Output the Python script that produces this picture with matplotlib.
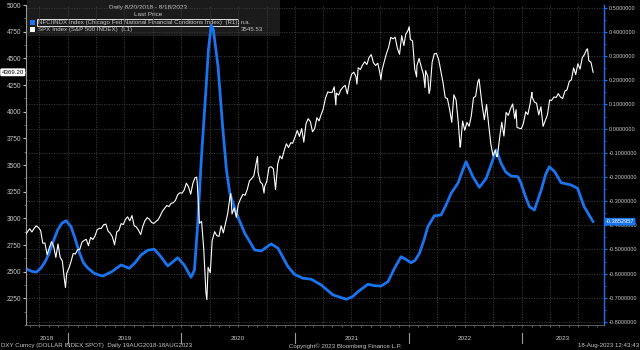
import pandas as pd
import matplotlib
matplotlib.use('Agg')
import matplotlib.pyplot as plt
import matplotlib.dates as mdates
import matplotlib.transforms as mtransforms
from matplotlib.ticker import MultipleLocator, FixedLocator, NullFormatter
from matplotlib.patches import Rectangle

plt.rcParams['font.family'] = ['Liberation Sans', 'DejaVu Sans']

# S&P 500 (left axis), roughly weekly closes
spx_2018 = [("2018-08-20", 2857), ("2018-08-24", 2875), ("2018-08-31", 2902), ("2018-09-07", 2872),
            ("2018-09-14", 2905), ("2018-09-21", 2930), ("2018-09-28", 2914), ("2018-10-05", 2886),
            ("2018-10-12", 2767), ("2018-10-19", 2768), ("2018-10-26", 2659), ("2018-11-02", 2723),
            ("2018-11-09", 2781), ("2018-11-16", 2736), ("2018-11-23", 2633), ("2018-11-30", 2760),
            ("2018-12-07", 2633), ("2018-12-14", 2600), ("2018-12-21", 2417), ("2018-12-24", 2351),
            ("2018-12-28", 2486)]
spx_2019 = [("2019-01-04", 2532), ("2019-01-11", 2596), ("2019-01-18", 2671), ("2019-01-25", 2665),
            ("2019-02-01", 2707), ("2019-02-08", 2708), ("2019-02-15", 2776), ("2019-02-22", 2793),
            ("2019-03-01", 2803), ("2019-03-08", 2743), ("2019-03-15", 2822), ("2019-03-22", 2801),
            ("2019-03-29", 2834), ("2019-04-05", 2893), ("2019-04-12", 2907), ("2019-04-18", 2905),
            ("2019-04-26", 2940), ("2019-05-03", 2946), ("2019-05-10", 2881), ("2019-05-17", 2860),
            ("2019-05-24", 2826), ("2019-05-31", 2752), ("2019-06-07", 2873), ("2019-06-14", 2887),
            ("2019-06-21", 2950), ("2019-06-28", 2942), ("2019-07-05", 2990), ("2019-07-12", 3014),
            ("2019-07-19", 2977), ("2019-07-26", 3026), ("2019-08-02", 2932), ("2019-08-09", 2919),
            ("2019-08-16", 2889), ("2019-08-23", 2847), ("2019-08-30", 2926), ("2019-09-06", 2979),
            ("2019-09-13", 3007), ("2019-09-20", 2992), ("2019-09-27", 2962), ("2019-10-04", 2952),
            ("2019-10-11", 2970), ("2019-10-18", 2986), ("2019-10-25", 3023), ("2019-11-01", 3067),
            ("2019-11-08", 3093), ("2019-11-15", 3120), ("2019-11-22", 3110), ("2019-11-29", 3141),
            ("2019-12-06", 3146), ("2019-12-13", 3169), ("2019-12-20", 3221), ("2019-12-27", 3240)]
spx_2020 = [("2020-01-03", 3235), ("2020-01-10", 3265), ("2020-01-17", 3330), ("2020-01-24", 3295),
            ("2020-01-31", 3226), ("2020-02-07", 3328), ("2020-02-14", 3380), ("2020-02-19", 3386),
            ("2020-02-21", 3338), ("2020-02-28", 2954), ("2020-03-06", 2972), ("2020-03-13", 2711),
            ("2020-03-20", 2305), ("2020-03-23", 2237), ("2020-03-27", 2541), ("2020-04-03", 2489),
            ("2020-04-09", 2790), ("2020-04-17", 2875), ("2020-04-24", 2837), ("2020-05-01", 2831),
            ("2020-05-08", 2930), ("2020-05-15", 2864), ("2020-05-22", 2955), ("2020-05-29", 3044),
            ("2020-06-05", 3194), ("2020-06-08", 3232), ("2020-06-12", 3041), ("2020-06-19", 3098),
            ("2020-06-26", 3009), ("2020-07-02", 3130), ("2020-07-10", 3185), ("2020-07-17", 3225),
            ("2020-07-24", 3216), ("2020-07-31", 3271), ("2020-08-07", 3351), ("2020-08-14", 3373),
            ("2020-08-21", 3397), ("2020-08-28", 3508), ("2020-09-02", 3580), ("2020-09-04", 3427),
            ("2020-09-11", 3341), ("2020-09-18", 3319), ("2020-09-23", 3237), ("2020-09-25", 3298),
            ("2020-10-02", 3348), ("2020-10-09", 3477), ("2020-10-16", 3484), ("2020-10-23", 3465),
            ("2020-10-30", 3270), ("2020-11-06", 3509), ("2020-11-13", 3585), ("2020-11-20", 3558),
            ("2020-11-27", 3638), ("2020-12-04", 3699), ("2020-12-11", 3663), ("2020-12-18", 3709),
            ("2020-12-24", 3703), ("2020-12-31", 3756)]
spx_2021 = [("2021-01-08", 3824), ("2021-01-15", 3768), ("2021-01-22", 3841), ("2021-01-29", 3714),
            ("2021-02-05", 3887), ("2021-02-12", 3934), ("2021-02-19", 3907), ("2021-02-26", 3811),
            ("2021-03-05", 3842), ("2021-03-12", 3943), ("2021-03-19", 3913), ("2021-03-26", 3975),
            ("2021-04-01", 4020), ("2021-04-09", 4129), ("2021-04-16", 4185), ("2021-04-23", 4180),
            ("2021-04-30", 4181), ("2021-05-07", 4233), ("2021-05-12", 4063), ("2021-05-14", 4174),
            ("2021-05-21", 4156), ("2021-05-28", 4204), ("2021-06-04", 4230), ("2021-06-11", 4247),
            ("2021-06-18", 4166), ("2021-06-25", 4281), ("2021-07-02", 4352), ("2021-07-09", 4370),
            ("2021-07-16", 4327), ("2021-07-19", 4258), ("2021-07-23", 4412), ("2021-07-30", 4395),
            ("2021-08-06", 4437), ("2021-08-13", 4468), ("2021-08-20", 4442), ("2021-08-27", 4509),
            ("2021-09-03", 4535), ("2021-09-10", 4459), ("2021-09-17", 4433), ("2021-09-24", 4455),
            ("2021-10-01", 4357), ("2021-10-04", 4300), ("2021-10-08", 4391), ("2021-10-15", 4471),
            ("2021-10-22", 4545), ("2021-10-29", 4605), ("2021-11-05", 4697), ("2021-11-12", 4683),
            ("2021-11-19", 4698), ("2021-11-26", 4595), ("2021-12-03", 4538), ("2021-12-10", 4712),
            ("2021-12-17", 4620), ("2021-12-23", 4725), ("2021-12-31", 4766)]
spx_2022 = [("2022-01-03", 4797), ("2022-01-07", 4677), ("2022-01-14", 4663), ("2022-01-21", 4398),
            ("2022-01-27", 4326), ("2022-01-28", 4432), ("2022-02-04", 4500), ("2022-02-11", 4419),
            ("2022-02-18", 4349), ("2022-02-23", 4225), ("2022-02-25", 4385), ("2022-03-04", 4329),
            ("2022-03-08", 4170), ("2022-03-11", 4204), ("2022-03-18", 4463), ("2022-03-25", 4543),
            ("2022-04-01", 4546), ("2022-04-08", 4488), ("2022-04-14", 4393), ("2022-04-22", 4272),
            ("2022-04-29", 4132), ("2022-05-06", 4123), ("2022-05-13", 4024), ("2022-05-20", 3901),
            ("2022-05-27", 4158), ("2022-06-03", 4109), ("2022-06-10", 3901), ("2022-06-16", 3667),
            ("2022-06-17", 3675), ("2022-06-24", 3912), ("2022-07-01", 3825), ("2022-07-08", 3899),
            ("2022-07-15", 3863), ("2022-07-22", 3962), ("2022-07-29", 4130), ("2022-08-05", 4145),
            ("2022-08-12", 4280), ("2022-08-16", 4305), ("2022-08-19", 4228), ("2022-08-26", 4058),
            ("2022-09-02", 3924), ("2022-09-09", 4067), ("2022-09-16", 3873), ("2022-09-23", 3693),
            ("2022-09-30", 3586), ("2022-10-07", 3640), ("2022-10-12", 3577), ("2022-10-14", 3583),
            ("2022-10-21", 3752), ("2022-10-28", 3901), ("2022-11-04", 3771), ("2022-11-11", 3993),
            ("2022-11-18", 3965), ("2022-11-25", 4026), ("2022-12-02", 4072), ("2022-12-09", 3934),
            ("2022-12-13", 4019), ("2022-12-16", 3852), ("2022-12-23", 3845), ("2022-12-30", 3840)]
spx_2023 = [("2023-01-06", 3895), ("2023-01-13", 3999), ("2023-01-20", 3973), ("2023-01-27", 4071),
            ("2023-02-02", 4180), ("2023-02-03", 4136), ("2023-02-10", 4090), ("2023-02-17", 4079),
            ("2023-02-24", 3970), ("2023-03-03", 4046), ("2023-03-10", 3862), ("2023-03-17", 3917),
            ("2023-03-24", 3971), ("2023-03-31", 4109), ("2023-04-06", 4105), ("2023-04-14", 4138),
            ("2023-04-21", 4133), ("2023-04-28", 4169), ("2023-05-05", 4136), ("2023-05-12", 4124),
            ("2023-05-19", 4192), ("2023-05-26", 4205), ("2023-06-02", 4282), ("2023-06-09", 4299),
            ("2023-06-16", 4410), ("2023-06-23", 4348), ("2023-06-30", 4450), ("2023-07-07", 4399),
            ("2023-07-14", 4505), ("2023-07-21", 4536), ("2023-07-28", 4582), ("2023-07-31", 4589),
            ("2023-08-04", 4478), ("2023-08-11", 4464), ("2023-08-18", 4369.20)]

# Chicago Fed NFCI (right axis)
nfci = [("2018-08-20", -0.580), ("2018-09-05", -0.590), ("2018-09-21", -0.594), ("2018-10-06", -0.577),
        ("2018-10-20", -0.550), ("2018-11-02", -0.514), ("2018-11-16", -0.462), ("2018-11-29", -0.419),
        ("2018-12-12", -0.392), ("2018-12-26", -0.381), ("2019-01-11", -0.406), ("2019-01-24", -0.455),
        ("2019-02-07", -0.514), ("2019-02-20", -0.555), ("2019-03-06", -0.577), ("2019-03-28", -0.600),
        ("2019-04-23", -0.610), ("2019-05-22", -0.592), ("2019-06-21", -0.564), ("2019-07-17", -0.578),
        ("2019-08-05", -0.555), ("2019-08-24", -0.523), ("2019-09-15", -0.503), ("2019-10-06", -0.499),
        ("2019-10-27", -0.530), ("2019-11-18", -0.568), ("2019-12-04", -0.552), ("2019-12-20", -0.534),
        ("2020-01-10", -0.564), ("2020-02-01", -0.615), ("2020-02-12", -0.585), ("2020-02-22", -0.406),
        ("2020-03-05", -0.130), ("2020-03-20", 0.160), ("2020-03-28", 0.325), ("2020-04-06", 0.428),
        ("2020-04-13", 0.408), ("2020-04-28", 0.256), ("2020-05-12", 0.020), ("2020-05-25", -0.171),
        ("2020-06-05", -0.268), ("2020-06-26", -0.350), ("2020-07-23", -0.433), ("2020-08-24", -0.502),
        ("2020-09-14", -0.506), ("2020-10-16", -0.477), ("2020-11-07", -0.495), ("2020-12-09", -0.571),
        ("2020-12-30", -0.603), ("2021-01-26", -0.619), ("2021-02-22", -0.623), ("2021-03-26", -0.647),
        ("2021-05-03", -0.688), ("2021-06-15", -0.706), ("2021-07-05", -0.695), ("2021-07-22", -0.675),
        ("2021-08-23", -0.644), ("2021-09-15", -0.650), ("2021-10-05", -0.651), ("2021-10-27", -0.633),
        ("2021-11-18", -0.575), ("2021-12-08", -0.530), ("2021-12-22", -0.540), ("2022-01-09", -0.555),
        ("2022-01-22", -0.545), ("2022-02-05", -0.516), ("2022-02-20", -0.460), ("2022-03-04", -0.406),
        ("2022-03-25", -0.361), ("2022-04-16", -0.357), ("2022-05-02", -0.315), ("2022-05-18", -0.268),
        ("2022-06-09", -0.226), ("2022-06-22", -0.180), ("2022-07-05", -0.137), ("2022-07-15", -0.165),
        ("2022-07-27", -0.199), ("2022-08-17", -0.243), ("2022-09-08", -0.206), ("2022-09-29", -0.130),
        ("2022-10-10", -0.088), ("2022-10-26", -0.144), ("2022-11-10", -0.180), ("2022-11-27", -0.196),
        ("2022-12-19", -0.199), ("2022-12-29", -0.226), ("2023-01-12", -0.280), ("2023-01-25", -0.323),
        ("2023-02-10", -0.337), ("2023-03-04", -0.254), ("2023-03-18", -0.190), ("2023-03-30", -0.158),
        ("2023-04-16", -0.178), ("2023-05-07", -0.224), ("2023-06-08", -0.233), ("2023-06-29", -0.247),
        ("2023-07-20", -0.323), ("2023-08-18", -0.3852957)]

years = [2018, 2019, 2020, 2021, 2022, 2023]
left_ticks = [2250, 2500, 2750, 3000, 3250, 3500, 3750, 4000, 4250, 4500, 4750, 5000]
right_ticks = [-0.8, -0.7, -0.6, -0.5, -0.4, -0.3, -0.2, -0.1, 0.0, 0.1, 0.2, 0.3, 0.4, 0.5]

spx = spx_2018 + spx_2019 + spx_2020 + spx_2021 + spx_2022 + spx_2023
spx_x = pd.to_datetime([d for d, v in spx])
spx_y = [v for d, v in spx]
nf_x = pd.to_datetime([d for d, v in nfci])
nf_y = [v for d, v in nfci]

BLUE = '#1a74f0'
GRID = '#3c3c3c'
TXT = '#c8c8c8'

fig = plt.figure(figsize=(6.4, 3.5), dpi=100, facecolor='black')
ax = fig.add_axes([26 / 640, 25 / 350, 578 / 640, 320 / 350])
ax2 = ax.twinx()
ax.set_zorder(ax2.get_zorder() + 1)
ax.patch.set_visible(False)
ax2.patch.set_visible(False)

x0, x1 = pd.Timestamp('2018-08-19'), pd.Timestamp('2023-09-22')
ax.set_xlim(x0, x1)
ax.set_ylim(2000, 5000)
ax2.set_ylim(-0.8124, 0.5112)

# legend panel sits under the plot lines
fig.patches.append(Rectangle((27 / 640, 1 - 36 / 350), 253 / 640, 36 / 350,
                             transform=fig.transFigure, fc='#1b1b1b', ec='none', zorder=-2))
fig.text(148 / 640, 1 - 7 / 350, 'Daily 8/20/2018 - 8/18/2023', ha='center', va='center',
         color=TXT, fontsize=4.6, zorder=-1)
fig.text(148 / 640, 1 - 15 / 350, 'Last Price', ha='center', va='center',
         color=TXT, fontsize=4.6, zorder=-1)
fig.patches.append(Rectangle((30 / 640, 1 - 25 / 350), 5 / 640, 5 / 350,
                             transform=fig.transFigure, fc=BLUE, ec='none', zorder=-1))
fig.patches.append(Rectangle((30 / 640, 1 - 32 / 350), 5 / 640, 5 / 350,
                             transform=fig.transFigure, fc='white', ec='none', zorder=-1))
fig.text(38 / 640, 1 - 22.5 / 350,
         'NFCIINDX Index (Chicago Fed National Financial Conditions Index)  (R1)',
         ha='left', va='center', color=TXT, fontsize=4.4, zorder=-1,
         bbox=dict(boxstyle='square,pad=0.12', fc='#1b1b1b', ec='white', lw=0.6))
fig.text(38 / 640, 1 - 29.5 / 350, 'SPX Index (S&P 500 INDEX)  (L1)',
         ha='left', va='center', color=TXT, fontsize=4.4, zorder=-1)
fig.text(241 / 640, 1 - 22.5 / 350, 'n.a.', ha='left', va='center', color=TXT, fontsize=4.4, zorder=-1)
fig.text(241 / 640, 1 - 29.5 / 350, '3545.53', ha='left', va='center', color=TXT, fontsize=4.4, zorder=-1)

# grid lines (right-axis levels, quarterly verticals)
for v in right_ticks:
    ax2.axhline(v, color=GRID, lw=0.6, ls=(0, (1.5, 1.5)), zorder=0)
for q in pd.date_range('2018-10-01', '2023-07-01', freq='QS'):
    ax2.axvline(q, color=GRID, lw=0.6, ls=(0, (1.5, 1.5)), zorder=0)

ax2.plot(nf_x, nf_y, color=BLUE, lw=2.0, solid_joinstyle='round', solid_capstyle='round', zorder=3)
ax.plot(spx_x, spx_y, color='white', lw=0.8, zorder=4)

ax.spines['top'].set_visible(False)
ax2.spines['top'].set_visible(False)
ax.spines['right'].set_visible(False)
ax2.spines['left'].set_visible(False)
ax2.spines['bottom'].set_visible(False)
ax.spines['left'].set_color('#9a9a9a')
ax.spines['bottom'].set_color('#6a6a6a')
ax.spines['left'].set_linewidth(0.8)
ax.spines['bottom'].set_linewidth(0.6)
ax2.spines['right'].set_color(BLUE)
ax2.spines['right'].set_linewidth(1.0)

# left axis
ax.yaxis.set_major_locator(FixedLocator(left_ticks))
ax.yaxis.set_minor_locator(MultipleLocator(125))
ax.tick_params(axis='y', which='major', colors='#bbbbbb', labelcolor=TXT, labelsize=4.7,
               length=2.5, width=0.8, pad=1)
ax.tick_params(axis='y', which='minor', colors='#888888', length=1.5, width=0.5)

# right axis
ax2.yaxis.set_major_locator(FixedLocator(right_ticks))
ax2.yaxis.set_minor_locator(MultipleLocator(0.05))
ax2.set_yticklabels([f'{v:.7f}' for v in right_ticks])
ax2.tick_params(axis='y', which='major', colors=BLUE, labelcolor=TXT, labelsize=4.1,
                length=2.5, width=0.8, pad=0.8)
ax2.tick_params(axis='y', which='minor', colors=BLUE, length=1.5, width=0.5)

# bottom axis: monthly ticks, year labels centred on visible span
ax.xaxis.set_major_locator(mdates.MonthLocator())
ax.xaxis.set_major_formatter(NullFormatter())
ax.tick_params(axis='x', colors='#888888', length=1.5, width=0.5)

trans = mtransforms.blended_transform_factory(ax.transData, ax.transAxes)
for yr in years:
    a = max(pd.Timestamp(f'{yr}-01-01'), x0)
    b = min(pd.Timestamp(f'{yr + 1}-01-01'), x1)
    ax.text(a + (b - a) / 2, -0.043, str(yr), transform=trans, ha='center', va='center',
            color=TXT, fontsize=4.6)
    if yr > 2018:
        ax.plot([pd.Timestamp(f'{yr}-01-01')] * 2, [-0.025, -0.055], transform=trans,
                color='#9a9a9a', lw=0.8, clip_on=False)

# last value tags
ax.annotate('4369.20', xy=(0, 4369.20), xycoords=('axes fraction', 'data'),
            xytext=(-1.5, 0), textcoords='offset points', ha='right', va='center',
            fontsize=4.4, color='black',
            bbox=dict(boxstyle='round,pad=0.12', fc='white', ec='white'))
ax2.annotate('-0.3852957', xy=(1, -0.3852957), xycoords=('axes fraction', 'data'),
             xytext=(1.2, 0), textcoords='offset points', ha='left', va='center',
             fontsize=4.1, color='white',
             bbox=dict(boxstyle='round,pad=0.12', fc=BLUE, ec=BLUE))

# footer
fig.text(1 / 640, 4 / 350, 'DXY Curncy (DOLLAR INDEX SPOT)  Daily 19AUG2018-18AUG2023',
         ha='left', va='center', color=TXT, fontsize=4.4)
fig.text(345 / 640, 4 / 350, 'Copyright\u00a9 2023 Bloomberg Finance L.P.',
         ha='center', va='center', color=TXT, fontsize=4.4)
fig.text(639 / 640, 4 / 350, '18-Aug-2023 12:43:43',
         ha='right', va='center', color=TXT, fontsize=4.4)

fig.savefig('out.png', dpi=100, facecolor='black')
